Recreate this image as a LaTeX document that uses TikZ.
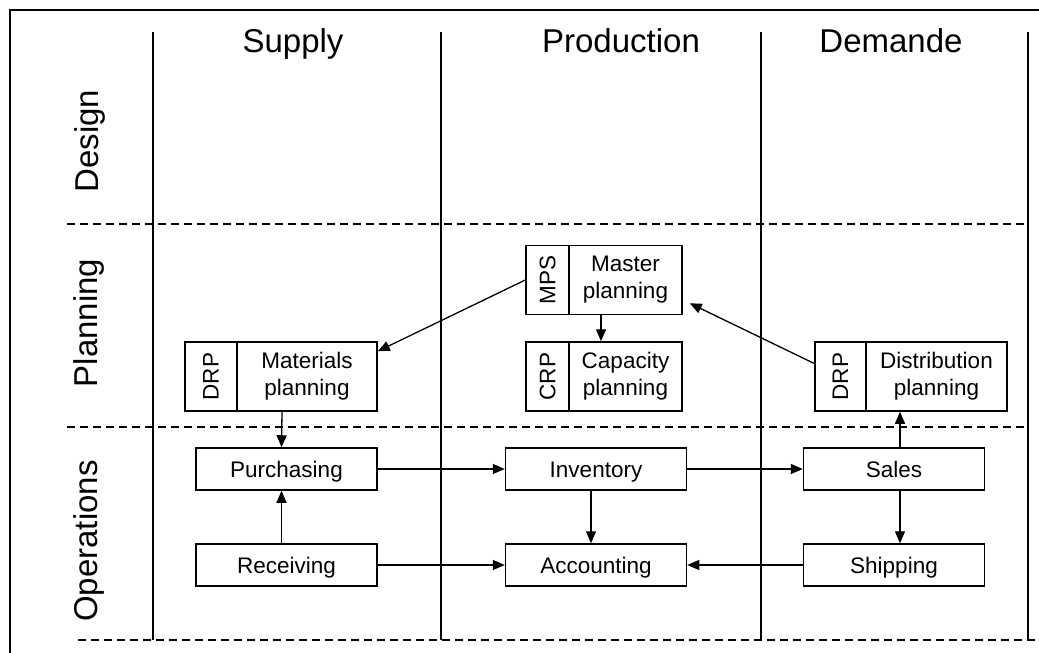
\documentclass[tikz,border=0pt]{standalone}
\usepackage{fontspec}
\setmainfont{Liberation Sans}
\usetikzlibrary{arrows.meta}

\begin{document}
\begin{tikzpicture}[x=1pt, y=-1pt,
    titulo/.style={font=\fontsize{33}{40}\selectfont, anchor=base},
    caja/.style={draw, line width=1.5pt, minimum width=181pt, minimum height=42pt, text height=17pt, text depth=1pt, font=\fontsize{22.5}{27}\selectfont},
    plan/.style={draw, line width=1.5pt, minimum height=69pt, align=center, inner sep=0pt, font=\fontsize{22.5}{27}\selectfont},
    lado/.style={draw, line width=1.5pt, rotate=90, minimum width=69pt, inner sep=0pt, font=\fontsize{22.5}{27}\selectfont},
    flecha/.style={-{Triangle[length=12pt,width=10pt]}, line width=1.3pt},
    guia/.style={dash pattern=on 8pt off 5pt, line width=1.3pt}]
    \useasboundingbox (0,0) rectangle (1039,653);

    % Marco y columnas
    \draw[line width=2.7pt] (10,653) -- (10,10) -- (1039,10);
    \foreach \x in {153,441,761,1028}
        \draw[line width=1.3pt] (\x,32) -- (\x,640);
    \draw[guia] (67,224) -- (1028,224);
    \draw[guia] (67,427) -- (1028,427);
    \draw[guia] (78,640) -- (1039,640);

    % Encabezados
    \node[titulo] (supply) at (293,52) {Supply};
    \node[titulo] (production) at (621,52) {Production};
    \node[titulo] (demande) at (891,52) {Demande};
    \node[titulo, rotate=90] (design) at (98,141) {Design};
    \node[titulo, rotate=90] (planning) at (97,323) {Planning};
    \node[titulo, rotate=90] (operations) at (97,541) {Operations};

    % Planificación
    \node[lado, minimum height=52pt] (matl) at (211,376.5) {DRP};
    \node[plan, minimum width=140pt] (mat) at (307,376.5) {Materials\\planning};
    \node[lado, minimum height=43pt] (mpsl) at (547.5,280) {MPS};
    \node[plan, minimum width=113pt] (mps) at (625.5,280) {Master\\planning};
    \node[lado, minimum height=43pt] (crpl) at (547.5,376.5) {CRP};
    \node[plan, minimum width=113pt] (crp) at (625.5,376.5) {Capacity\\planning};
    \node[lado, minimum height=51pt] (distl) at (840.5,376.5) {DRP};
    \node[plan, minimum width=141pt] (dist) at (936.5,376.5) {Distribution\\planning};

    % Operaciones
    \node[caja] (purch) at (286.5,469) {Purchasing};
    \node[caja] (rec) at (286.5,565) {Receiving};
    \node[caja] (inv) at (596,469) {Inventory};
    \node[caja] (acc) at (596,565) {Accounting};
    \node[caja] (sales) at (894,469) {Sales};
    \node[caja] (ship) at (894,565) {Shipping};

    % Flechas
    \draw[flecha] (mpsl.north) -- ([yshift=-10pt]mat.north east);
    \draw[flecha] ([yshift=13pt]distl.north) -- ([xshift=7pt,yshift=12pt]mps.south east);
    \draw[flecha] ([xshift=-24.5pt]mps.south) -- ([xshift=-24.5pt]crp.north);
    \draw[flecha] ([xshift=-25pt]mat.south) -- ([xshift=-5pt]purch.north);
    \draw[flecha] ([xshift=-5pt]rec.north) -- ([xshift=-5pt]purch.south);
    \draw[flecha] (purch.east) -- (inv.west);
    \draw[flecha] (rec.east) -- (acc.west);
    \draw[flecha] ([xshift=-5pt]inv.south) -- ([xshift=-5pt]acc.north);
    \draw[flecha] (inv.east) -- (sales.west);
    \draw[flecha] (ship.west) -- (acc.east);
    \draw[flecha] ([xshift=6pt]sales.south) -- ([xshift=6pt]ship.north);
    \draw[flecha] ([xshift=6pt]sales.north) -- ([xshift=-36.5pt]dist.south);
\end{tikzpicture}
\end{document}
